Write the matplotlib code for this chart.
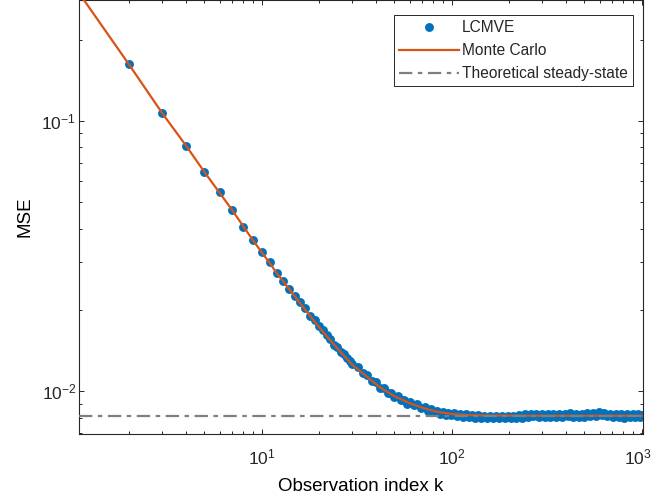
import matplotlib
matplotlib.use("Agg")
import matplotlib.pyplot as plt
import matplotlib.transforms as mtransforms

# MATLAB-like look
plt.rcParams['font.family'] = ['Liberation Sans', 'DejaVu Sans']
plt.rcParams['mathtext.fontset'] = 'custom'
plt.rcParams['mathtext.rm'] = 'Liberation Sans'
plt.rcParams['mathtext.it'] = 'Liberation Sans:italic'
plt.rcParams['mathtext.bf'] = 'Liberation Sans:bold'
plt.rcParams['text.color'] = '#262626'

# Monte Carlo curve
mc_k = [1, 2, 3, 4, 5, 6, 7, 8, 9, 10, 11, 12, 13, 14, 15, 17, 19, 22, 26, 30,
        36, 42, 50, 60, 70, 83, 100, 120, 150, 200, 300, 500, 1000]
mc_mse = [0.325, 0.162, 0.1067, 0.0810, 0.0647, 0.0543, 0.0468, 0.0408, 0.0362, 0.0327,
          0.0299, 0.0274, 0.0255, 0.0238, 0.0224, 0.0200, 0.0181, 0.0160, 0.0140, 0.01255,
          0.0113, 0.01035, 0.0096, 0.00905, 0.00870, 0.00842, 0.00825, 0.00818, 0.00815,
          0.00814, 0.00813, 0.00813, 0.00813]

# LCMVE estimates
lc_k = [2, 3, 4, 5, 6, 7, 8, 9, 10, 11, 12, 13, 14, 15, 16, 17, 18, 19, 20, 21,
        22, 23, 24, 25, 26, 27, 28, 29, 30,
        32, 34, 36, 38, 40, 42, 44, 46, 48, 50, 52, 54, 56, 58, 60,
        63, 66, 69, 72, 75, 78, 81, 84, 87, 90, 93, 96, 99,
        103, 107, 111, 115, 119, 123, 128, 133, 138, 143, 148, 153, 159, 165, 171, 177,
        183, 190, 197, 204, 211, 218, 226, 234, 242, 251, 260, 269, 278, 288, 298, 309,
        320, 331, 343, 355, 367, 380, 393, 407, 421, 436, 451, 467, 483, 500, 518, 536,
        555, 574, 594, 615, 636, 658, 681, 705, 730, 756, 782, 809, 837, 866, 896, 927,
        959, 985, 1000]
lc_mse = [0.1625, 0.1066, 0.0811, 0.0646, 0.0544, 0.0469, 0.0407, 0.0362, 0.0328, 0.0300,
          0.0275, 0.0256, 0.0239, 0.0225, 0.0215, 0.0203, 0.0190, 0.0183, 0.0174, 0.0168,
          0.0161, 0.0156, 0.0149, 0.0146, 0.0140, 0.0137, 0.0133, 0.0130, 0.0126,
          0.01230, 0.01172, 0.01150, 0.01095, 0.01080, 0.01030, 0.01030, 0.00985, 0.00990,
          0.00950, 0.00962, 0.00928, 0.00932, 0.00902, 0.00912,
          0.00888, 0.00895, 0.00866, 0.00876, 0.00850, 0.00862, 0.00838, 0.00850, 0.00828,
          0.00842, 0.00820, 0.00834, 0.00816,
          0.00830, 0.00812, 0.00826, 0.00806, 0.00822, 0.00802, 0.00818, 0.00800, 0.00815, 0.00798,
          0.00812, 0.00796, 0.00810, 0.00795, 0.00808, 0.00797, 0.00812, 0.00796, 0.00809, 0.00795,
          0.00811, 0.00797, 0.00815, 0.00800, 0.00822, 0.00805, 0.00826, 0.00808, 0.00828, 0.00806,
          0.00824, 0.00803, 0.00826, 0.00801, 0.00822, 0.00805, 0.00827, 0.00802, 0.00824, 0.00808,
          0.00830, 0.00806, 0.00826, 0.00803, 0.00825, 0.00807, 0.00829, 0.00810, 0.00832, 0.00814,
          0.00836, 0.00815, 0.00834, 0.00812, 0.00828, 0.00806, 0.00826, 0.00802, 0.00822, 0.00800,
          0.00825, 0.00803, 0.00828, 0.00801, 0.00823, 0.00802, 0.00820]

steady_mse = 0.00813

fig = plt.figure(figsize=(6.54, 5.0), dpi=100)
ax = fig.add_axes([79/654, 66/500, 564/654, 434/500])

ax.loglog(lc_k, lc_mse, 'o', color='#0072BD', markersize=6.4, markeredgewidth=0,
          label='LCMVE', zorder=2)
ax.loglog(mc_k, mc_mse, '-', color='#D95319', linewidth=1.6, label='Monte Carlo', zorder=3)
ax.axhline(steady_mse, color='#7F7F7F', linewidth=1.6, dashes=[6, 2.5, 2, 2.5],
           label='Theoretical steady-state', zorder=4)

ax.set_xlim(1.093, 1016)
ax.set_ylim(0.00696, 0.28)
ax.set_xticks([10, 100, 1000])

ax.tick_params(which='both', direction='in', top=True, right=True, colors='#262626',
               labelsize=12.5, width=0.7)
ax.tick_params(which='major', length=3.6)
ax.tick_params(which='minor', length=2.4)
ax.tick_params(axis='x', pad=10)
ax.tick_params(axis='y', pad=2)
for s in ax.spines.values():
    s.set_color('#262626')
    s.set_linewidth(0.8)

# nudge the 10^3 label a little so it stays inside the figure
last = ax.xaxis.get_major_ticks()[-1].label1
last.set_transform(last.get_transform() +
                   mtransforms.ScaledTranslation(-4/100, 0, fig.dpi_scale_trans))

ax.set_xlabel('Observation index k', fontsize=13.5, labelpad=7)
ax.set_ylabel('MSE', fontsize=13.5, labelpad=6)

leg = ax.legend(loc='upper right', bbox_to_anchor=(0.9823, 0.9654), borderaxespad=0,
                fontsize=11.2, fancybox=False, framealpha=1, edgecolor='#262626',
                handlelength=3.8, handletextpad=0.2, labelspacing=0.5, borderpad=0.35,
                numpoints=1)
leg.get_frame().set_linewidth(0.7)

fig.savefig('out.png', dpi=100)
